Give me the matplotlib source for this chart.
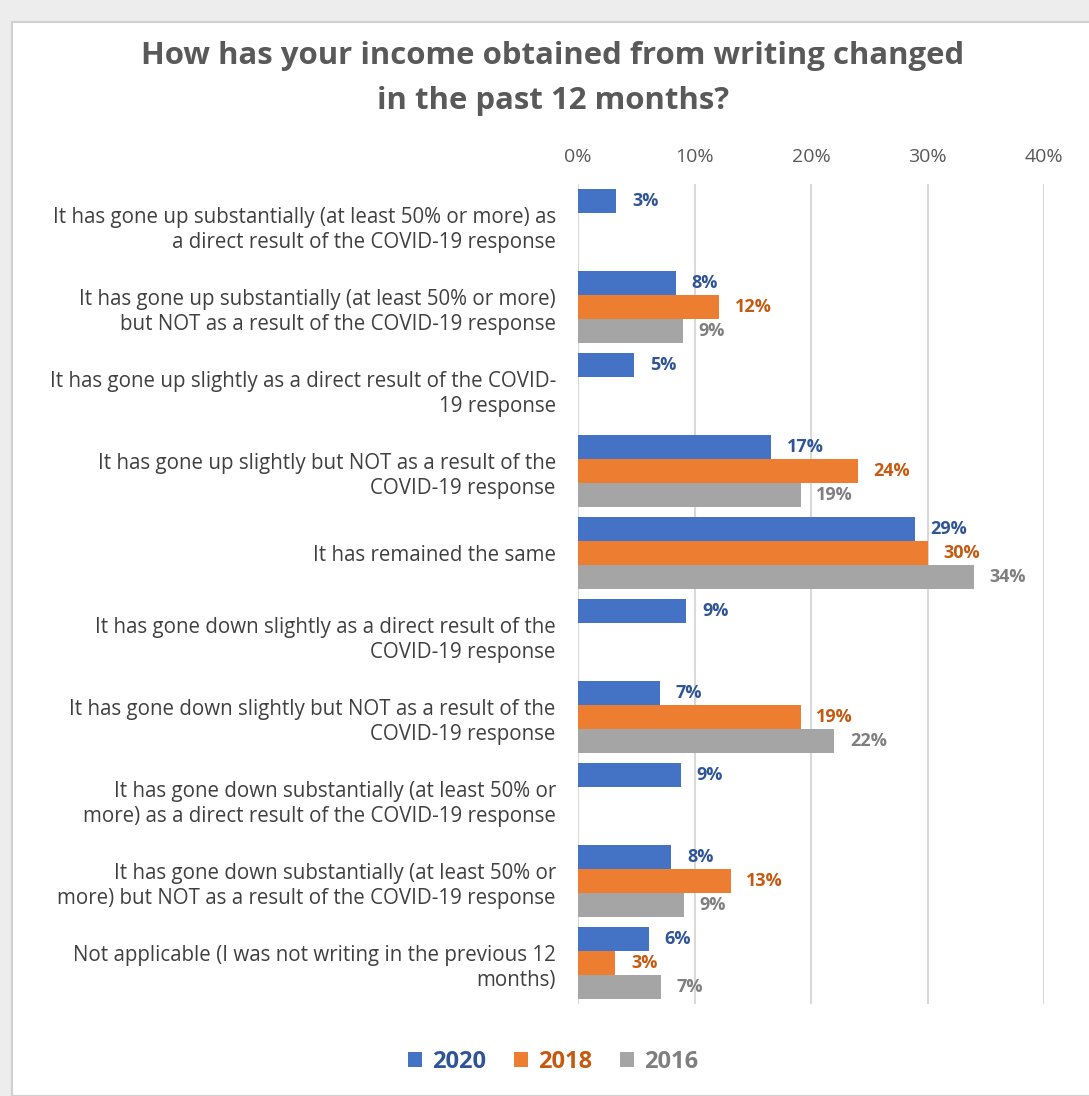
import numpy as np
import matplotlib.pyplot as plt
from matplotlib.patches import Rectangle

categories = [
    "It has gone up substantially (at least 50% or more) as\na direct result of the COVID-19 response",
    "It has gone up substantially (at least 50% or more)\nbut NOT as a result of the COVID-19 response",
    "It has gone up slightly as a direct result of the COVID-\n19 response",
    "It has gone up slightly but NOT as a result of the\nCOVID-19 response",
    "It has remained the same",
    "It has gone down slightly as a direct result of the\nCOVID-19 response",
    "It has gone down slightly but NOT as a result of the\nCOVID-19 response",
    "It has gone down substantially (at least 50% or\nmore) as a direct result of the COVID-19 response",
    "It has gone down substantially (at least 50% or\nmore) but NOT as a result of the COVID-19 response",
    "Not applicable (I was not writing in the previous 12\nmonths)",
]
years = ["2020", "2018", "2016"]
v2020 = [3.3, 8.4, 4.8, 16.6, 28.9, 9.3, 7.0, 8.8, 8.0, 6.1]
v2018 = [np.nan, 12.1, np.nan, 24.0, 30.0, np.nan, 19.1, np.nan, 13.1, 3.2]
v2016 = [np.nan, 9.0, np.nan, 19.1, 34.0, np.nan, 22.0, np.nan, 9.1, 7.1]
series = [v2020, v2018, v2016]

bar_colors = ["#4472C4", "#ED7D31", "#A5A5A5"]
text_colors = ["#2F5597", "#C55A11", "#7F7F7F"]

plt.rcParams['font.family'] = ['Open Sans', 'DejaVu Sans']

fig = plt.figure(figsize=(10.89, 10.96), dpi=100)
fig.patches.append(Rectangle((0, 0), 1, 1, transform=fig.transFigure,
                             facecolor='#EDEDED', edgecolor='none', zorder=-2))
fig.patches.append(Rectangle((12 / 1089, 0), 1, 1 - 22 / 1096, transform=fig.transFigure,
                             facecolor='white', edgecolor='#D0D0D0', lw=1.5, zorder=-1))

ax = fig.add_axes([578 / 1089, 1 - 1004 / 1096, (1044 - 578) / 1089, (1004 - 184) / 1096])

h = 0.29
y = np.arange(len(categories))
for i, vals in enumerate(series):
    pos = y + (i - 1) * h
    ax.barh(pos, vals, height=h, color=bar_colors[i], label=years[i], zorder=3)
    for p, v in zip(pos, vals):
        if np.isnan(v):
            continue
        ax.text(v + 1.35, p, f"{round(v):.0f}%", va='center', ha='left',
                fontsize=13, fontweight='bold', color=text_colors[i])

ax.set_xlim(0, 40)
ax.set_ylim(len(categories) - 0.5, -0.5)
ax.set_xticks([0, 10, 20, 30, 40])
ax.set_xticklabels([f"{t}%" for t in [0, 10, 20, 30, 40]])
ax.xaxis.tick_top()
ax.tick_params(axis='x', length=0, labelsize=14, colors='#595959', pad=13)
ax.set_yticks(y)
ax.set_yticklabels(categories, fontsize=14.8, color='#404040', ha='right',
                   multialignment='right', linespacing=1.3)
ax.tick_params(axis='y', length=0, pad=16)
ax.grid(axis='x', color='#D9D9D9', lw=1.5, zorder=0)
for s in ax.spines.values():
    s.set_visible(False)

cx = 553 / 1089
fig.text(cx, 1 - 56 / 1096, "How has your income obtained from writing changed",
         ha='center', va='center', fontsize=22.4, fontweight='bold', color='#595959')
fig.text(cx, 1 - 101 / 1096, "in the past 12 months?",
         ha='center', va='center', fontsize=22.4, fontweight='bold', color='#595959')

handles, labels = ax.get_legend_handles_labels()
leg = fig.legend(handles, labels, loc='center', bbox_to_anchor=(cx, 1 - 1062 / 1096),
                 ncol=3, frameon=False, fontsize=17, handlelength=0.6, handleheight=0.6,
                 handletextpad=0.4, columnspacing=1.2)
for t, c in zip(leg.get_texts(), text_colors):
    t.set_color(c)
    t.set_fontweight('bold')

fig.savefig('out.png', dpi=100)
